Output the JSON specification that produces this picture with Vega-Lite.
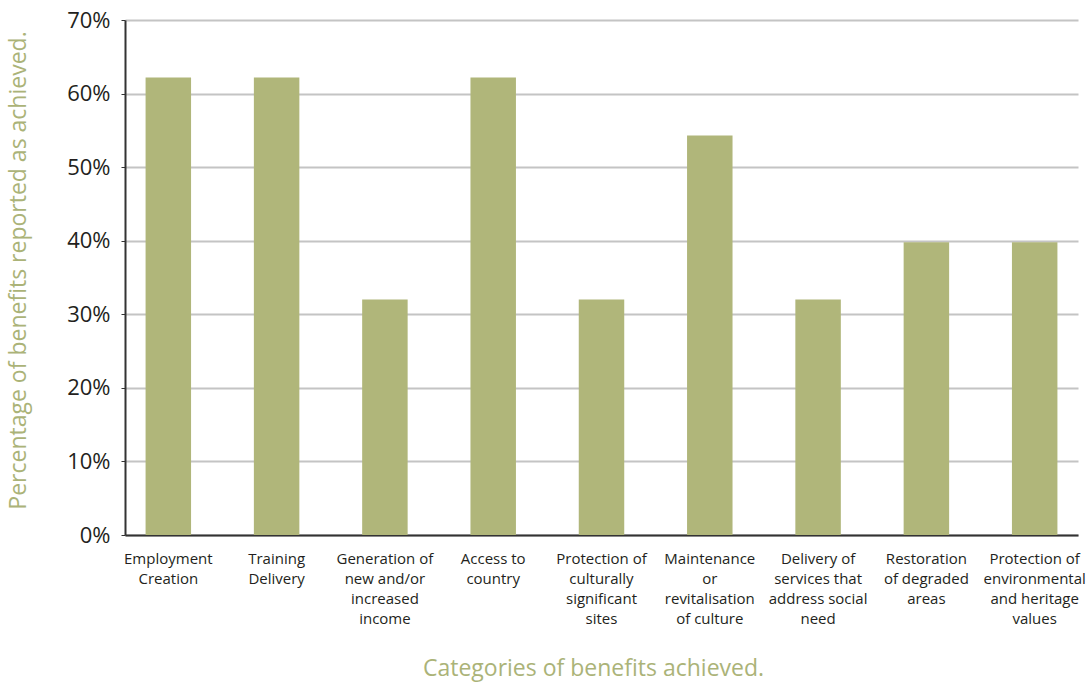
{
  "$schema": "https://vega.github.io/schema/vega-lite/v6.json",
  "width": 953,
  "height": 515,
  "autosize": {"type": "none"},
  "padding": {"left": 125, "top": 20, "right": 9, "bottom": 148},
  "background": "white",
  "config": {
    "view": {"stroke": null},
    "font": "Open Sans"
  },
  "data": {
    "values": [
      {"category": "Employment Creation", "pct": 0.622},
      {"category": "Training Delivery", "pct": 0.622},
      {"category": "Generation of new and/or increased income", "pct": 0.32},
      {"category": "Access to country", "pct": 0.622},
      {"category": "Protection of culturally significant sites", "pct": 0.32},
      {"category": "Maintenance or revitalisation of culture", "pct": 0.543},
      {"category": "Delivery of services that address social need", "pct": 0.32},
      {"category": "Restoration of degraded areas", "pct": 0.398},
      {"category": "Protection of environmental and heritage values", "pct": 0.398}
    ]
  },
  "mark": {"type": "bar", "color": "#b0b67a"},
  "encoding": {
    "x": {
      "field": "category",
      "type": "nominal",
      "sort": null,
      "scale": {"paddingInner": 0.58, "paddingOuter": 0.19},
      "axis": {
        "title": "Categories of benefits achieved.",
        "titleFont": "Open Sans",
        "titleFontSize": 23,
        "titleFontWeight": "normal",
        "titleColor": "#abb378",
        "titleX": 468,
        "titleY": 140,
        "titleAlign": "center",
        "titleBaseline": "alphabetic",
        "labelAngle": 0,
        "labelFont": "Open Sans",
        "labelFontSize": 15,
        "labelColor": "#231f20",
        "labelLineHeight": 20,
        "labelBaseline": "top",
        "labelPadding": 16,
        "labelLimit": 200,
        "ticks": false,
        "domainColor": "#333333",
        "domainWidth": 2,
        "labelExpr": "({'Employment Creation': ['Employment','Creation'], 'Training Delivery': ['Training','Delivery'], 'Generation of new and/or increased income': ['Generation of','new and/or','increased','income'], 'Access to country': ['Access to','country'], 'Protection of culturally significant sites': ['Protection of','culturally','significant','sites'], 'Maintenance or revitalisation of culture': ['Maintenance','or','revitalisation','of culture'], 'Delivery of services that address social need': ['Delivery of','services that','address social','need'], 'Restoration of degraded areas': ['Restoration','of degraded','areas'], 'Protection of environmental and heritage values': ['Protection of','environmental','and heritage','values']})[datum.value]"
      }
    },
    "y": {
      "field": "pct",
      "type": "quantitative",
      "scale": {"domain": [0, 0.7], "nice": false},
      "axis": {
        "title": "Percentage of benefits reported as achieved.",
        "titleFont": "Open Sans",
        "titleFontSize": 23,
        "titleFontWeight": "normal",
        "titleColor": "#abb378",
        "titleAngle": 270,
        "titleX": -100,
        "titleY": 250,
        "titleAlign": "center",
        "titleBaseline": "alphabetic",
        "values": [0, 0.1, 0.2, 0.3, 0.4, 0.5, 0.6, 0.7],
        "format": ".0%",
        "labelFont": "Open Sans",
        "labelFontSize": 22,
        "labelColor": "#231f20",
        "labelPadding": 11,
        "tickSize": 4,
        "tickColor": "#333333",
        "tickWidth": 1,
        "domainColor": "#333333",
        "domainWidth": 2,
        "grid": true,
        "gridColor": "#c4c4c4",
        "gridWidth": 2
      }
    }
  }
}
